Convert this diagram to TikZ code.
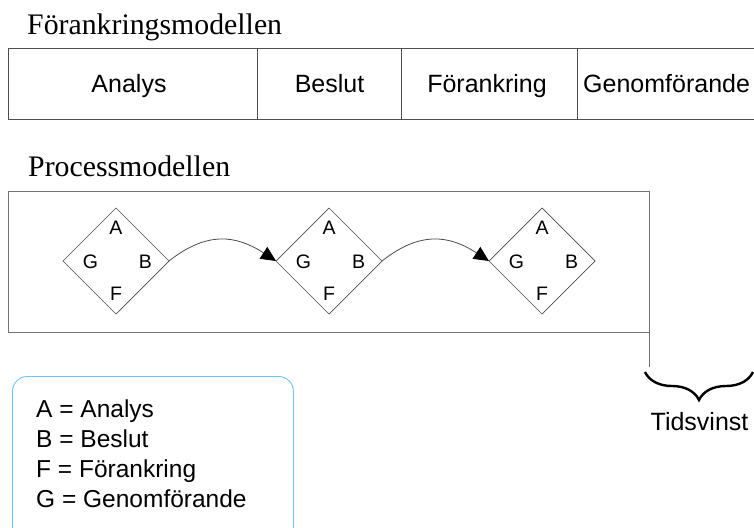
\documentclass[tikz,border=0pt]{standalone}
\usepackage{fontspec}
\setmainfont{Liberation Serif}
\setsansfont{Liberation Sans}
\usetikzlibrary{shapes.geometric,arrows.meta,decorations.pathreplacing}
\definecolor{legendblue}{RGB}{105,200,240}

\begin{document}
\begin{tikzpicture}[x=1pt,y=-1pt,
  heading/.style={font=\fontsize{29.8}{32}\selectfont\rmfamily, anchor=base west, inner sep=0},
  celltext/.style={font=\fontsize{25}{28}\selectfont\sffamily, anchor=base, inner sep=0},
  legendtext/.style={font=\fontsize{24.5}{28}\selectfont\sffamily, anchor=base west, inner sep=0},
  tableline/.style={draw=black!70, line width=0.9pt},
  procline/.style={draw=black!55, line width=1pt},
  phase/.style={diamond, draw=black!70, line width=0.7pt, minimum width=106pt,
    minimum height=106pt, inner sep=0, outer sep=0},
  letter/.style={font=\fontsize{19.5}{21}\selectfont\sffamily, inner sep=0},
  flow/.style={draw=black!70, line width=0.8pt,
    -{Triangle[length=15pt,width=14pt,fill=black,color=black]}},
  legendbox/.style={draw=legendblue, line width=0.9pt, rounded corners=15pt,
    anchor=north west, minimum width=281pt, minimum height=170pt, inner sep=0},
  gainbrace/.style={draw=black, line width=2.4pt,
    decorate, decoration={brace, mirror, amplitude=28pt}}
]
\useasboundingbox (0,0) rectangle (754,527);

% --- Förankringsmodellen: a row of four phases
\node[heading] (t1) at (27,35) {Förankringsmodellen};
\draw[tableline] (754,48) -- (8,48) -- (8,119) -- (754,119);
\draw[tableline] (257.5,48) -- (257.5,119);
\draw[tableline] (401,48) -- (401,119);
\draw[tableline] (577,48) -- (577,119);
\node[celltext] (c1) at (129,92) {Analys};
\node[celltext] (c2) at (329.5,92) {Beslut};
\node[celltext] (c3) at (487,92) {Förankring};
\node[celltext, anchor=base west] (c4) at (583,92) {Genomförande};

% --- Processmodellen: three cycles linked by arrows
\node[heading] (t2) at (28,176) {Processmodellen};
\draw[procline] (8,191) rectangle (649,332);
\coordinate (pend) at (649,332);
\coordinate (pdrop) at (649,367);
\draw[procline] (pend) -- (pdrop);

\foreach \i/\x in {1/116, 2/329, 3/542} {
  \node[phase] (d\i) at (\x,261) {};
  \node[letter] (a\i) at ([yshift=33pt]d\i.center) {A};
  \node[letter] (g\i) at ([xshift=-25.5pt,yshift=-1pt]d\i.center) {G};
  \node[letter] (b\i) at ([xshift=29.5pt,yshift=-1pt]d\i.center) {B};
  \node[letter] (f\i) at ([yshift=-33pt]d\i.center) {F};
}
\draw[flow] (d1.east) .. controls +(38pt,30pt) and +(-40pt,26pt) .. (d2.west);
\draw[flow] (d2.east) .. controls +(38pt,30pt) and +(-40pt,26pt) .. (d3.west);

% --- time saved
\coordinate (bl) at (645,372);
\coordinate (br) at (753,372);
\draw[gainbrace] (bl) -- (br);
\node[celltext] (gain) at (699.5,430) {Tidsvinst};

% --- legend
\node[legendbox] (legend) at (12,376) {};
\node[legendtext] (l1) at (36,417) {A = Analys};
\node[legendtext] (l2) at (36,447) {B = Beslut};
\node[legendtext] (l3) at (36,477) {F = Förankring};
\node[legendtext] (l4) at (36,507) {G = Genomförande};
\end{tikzpicture}
\end{document}
